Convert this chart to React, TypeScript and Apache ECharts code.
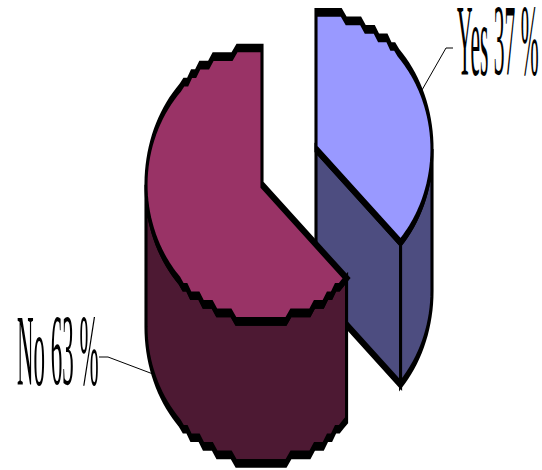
import React, { useEffect, useRef } from "react";
import * as echarts from "echarts";

const categories = ["Yes", "No"];
const shares = [37, 63];
const topColors = ["#9999FF", "#993366"];
const wallColors = ["#4D4D80", "#4D1933"];

const centers = [[316, 149], [262, 184.7]];
const RX = 116;
const RY = 136.7;
const DEPTH = 142;
const STRETCH = 2.8;
const LINE = 3.1;
const GRID = RY / 16;
const labelBoxes = [
  { x: 457, y: 4, sx: 0.22, sy: 1.03, leader: [[422, 90], [446, 48], [453, 48]] },
  { x: 17, y: 314, sx: 0.234, sy: 1.03, leader: [[153, 374], [108, 357], [99, 357]] },
];

function rim(c: number[], t0: number, t1: number, drop = 0) {
  const pts: number[][] = [];
  const n = Math.max(1, Math.round((t1 - t0) / 2.5));
  for (let i = 0; i <= n; i++) {
    const deg = t0 + ((t1 - t0) * i) / n;
    const t = (deg * Math.PI) / 180;
    const x = c[0] + RX * Math.sin(t);
    let dy = -RY * Math.cos(t);
    const flat = Math.abs(Math.cos(t)) > 0.72;
    if (i > 0 && i < n && flat) dy = Math.round(dy / GRID) * GRID;
    pts.push([x, c[1] + dy + drop]);
  }
  return pts;
}

function face(points: number[][], fill: string) {
  return {
    type: "polygon",
    scaleY: STRETCH,
    shape: { points: points.map((p) => [p[0], p[1] / STRETCH]) },
    style: { fill, stroke: "#000", lineWidth: LINE, lineJoin: "miter" },
  };
}

function renderSlice(params: any, api: any) {
  const i = params.dataIndex;
  const c = centers[i];
  const total = shares.reduce((a, b) => a + b, 0);
  const before = shares.slice(0, i).reduce((a, b) => a + b, 0);
  const t0 = (before / total) * 360;
  const t1 = ((before + api.value(0)) / total) * 360;
  const top = [c, ...rim(c, t0, t1)];
  const children: any[] = [];
  if (i === 0) {
    const a = rim(c, t1, t1)[0];
    children.push(
      face([c, a, [a[0], a[1] + DEPTH], [c[0], c[1] + DEPTH]], wallColors[i]),
      face([...rim(c, 90, t1), ...rim(c, 90, t1, DEPTH).reverse()], wallColors[i])
    );
  } else {
    children.push(
      face([...rim(c, t0, 270), ...rim(c, t0, 270, DEPTH).reverse()], wallColors[i])
    );
  }
  children.push(face(top, topColors[i]));
  const box = labelBoxes[i];
  children.push(
    {
      type: "polyline",
      shape: { points: box.leader },
      style: { fill: "none", stroke: "#000", lineWidth: 1 },
    },
    {
      type: "text",
      x: box.x,
      y: box.y,
      scaleX: box.sx,
      scaleY: box.sy,
      style: {
        text: `${categories[i]} ${api.value(0)} %`,
        font: '98px "Liberation Serif"',
        lineHeight: 72,
        fill: "#000",
        textAlign: "left",
        textVerticalAlign: "top",
      },
    }
  );
  return { type: "group", children };
}

export default function App() {
  const ref = useRef<HTMLDivElement>(null);
  useEffect(() => {
    const chart = echarts.init(ref.current!, undefined, { renderer: "svg" });
    chart.setOption({
      animation: false,
      backgroundColor: "#fff",
      series: [
        {
          type: "custom",
          coordinateSystem: "none",
          renderItem: renderSlice,
          data: shares.map((v, i) => ({ name: categories[i], value: [v] })),
        },
      ],
    });
    return () => chart.dispose();
  }, []);
  return (
    <div
      ref={ref}
      style={{ position: "absolute", left: 0, top: 0, width: 542, height: 470 }}
    />
  );
}
